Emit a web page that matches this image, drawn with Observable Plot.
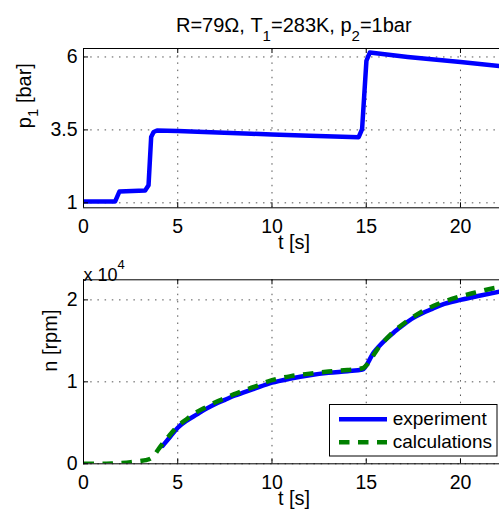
<!DOCTYPE html>
<html>
<head>
<meta charset="utf-8">
<script src="https://cdn.jsdelivr.net/npm/d3@7"></script>
<script src="https://cdn.jsdelivr.net/npm/@observablehq/plot@0.6"></script>
<style>
  html, body { margin: 0; padding: 0; background: #fff; overflow: hidden; }
  #wrap { position: relative; width: 499px; height: 517px; overflow: hidden; background: #fff;
          font-family: "Liberation Sans", Arial, Helvetica, sans-serif; color: #000; }
  #wrap svg.plotpanel { position: absolute; left: 0; }
  #legend { position: absolute; left: 329px; top: 404px; }
</style>
</head>
<body>
<div id="wrap"></div>
<script>
// ---- data ----
const xTicks = [0, 5, 10, 15, 20];
const pTicks = [1, 3.5, 6];
const nTicks = [0, 10000, 20000];

// upper panel: pressure p1 [bar] vs time t [s]
const pTime = [0, 1.68, 1.91, 3.27, 3.45, 3.59, 3.72, 3.9, 5, 6.4, 8.9, 10, 12, 14.6, 14.78, 15.01, 15.19, 17.2, 20, 22.07];
const pBar  = [1.05, 1.05, 1.39, 1.42, 1.6, 3.26, 3.43, 3.48, 3.46, 3.43, 3.37, 3.34, 3.3, 3.25, 3.53, 5.87, 6.15, 6.0, 5.83, 5.69];

// lower panel: speed n [rpm], experiment
const expTime = [4.2, 4.6, 5, 5.5, 6, 6.5, 7, 7.5, 8, 8.5, 9, 10, 11, 12, 13, 14, 14.8, 15.4, 16, 16.5, 17, 17.5, 18, 18.5, 19, 20, 21, 22.07];
const expRpm  = [2200, 3300, 4400, 5300, 6000, 6700, 7300, 7800, 8300, 8700, 9100, 9900, 10400, 10800, 11100, 11300, 11500, 13600, 15100, 16100, 17000, 17800, 18400, 18900, 19400, 20000, 20500, 21000];

// lower panel: speed n [rpm], calculations
const calcTime = [0, 1, 1.5, 2, 2.5, 3, 3.3, 3.6, 3.8, 4.0, 4.5, 5, 5.5, 6, 6.5, 7, 7.5, 8, 8.5, 9, 10, 11, 12, 13, 14, 14.8, 15.0, 15.6, 16.3, 17.1, 17.9, 18.8, 19.8, 20.8, 21.8, 22.07];
const calcRpm  = [0, 0, 30, 100, 200, 350, 450, 700, 1200, 1850, 3300, 4600, 5500, 6300, 6900, 7500, 8000, 8500, 8950, 9350, 10200, 10700, 11000, 11250, 11450, 11650, 12000, 14000, 15800, 17300, 18500, 19500, 20300, 20900, 21450, 21550];

const seriesNames = ["experiment", "calculations"];
const seriesColors = ["#0000ff", "#008000"];

// ---- layout ----
const FONT = '"Liberation Sans", Arial, Helvetica, sans-serif';
const W = 499, ML = 83, MR = 0;
const xMax = 22.07;
const pDomain = [0.83, 6.29];
const nDomain = [0, 22450];
const gridStyle = {stroke: "#555", strokeOpacity: 1, strokeWidth: 1, strokeDasharray: "1.5,5.7"};

const pData = pTime.map((t, i) => ({t, v: pBar[i]}));
const expData = expTime.map((t, i) => ({t, v: expRpm[i]}));
const calcData = calcTime.map((t, i) => ({t, v: calcRpm[i]}));

function rewrite(svg, match, parts) {
  d3.select(svg).selectAll("text").filter(function() { return this.textContent === match; })
    .each(function() {
      const el = d3.select(this);
      el.text(null);
      for (const p of parts) {
        const ts = el.append("tspan").text(p.t);
        if (p.dy) ts.attr("dy", p.dy);
        if (p.fs) ts.attr("font-size", p.fs);
      }
    });
}

// upper panel
const H1 = 260, MT1 = 48, MB1 = 52.7;
const fh1 = H1 - MT1 - MB1, fw = W - ML - MR;
const titleStr = "R=79Ω, T1=283K, p2=1bar";
const topPlot = Plot.plot({
  width: W, height: H1, marginTop: MT1, marginBottom: MB1, marginLeft: ML, marginRight: MR,
  className: "plotpanel",
  style: {fontFamily: FONT, fontSize: "19.5px", color: "#000", overflow: "visible", background: "transparent"},
  x: {domain: [0, xMax]},
  y: {domain: pDomain},
  marks: [
    Plot.gridX(xTicks, gridStyle),
    Plot.gridY(pTicks, gridStyle),
    Plot.line(pData, {x: "t", y: "v", stroke: seriesColors[0], strokeWidth: 4.5, clip: true}),
    Plot.ruleY([pDomain[0], pDomain[1]], {stroke: "#000"}),
    Plot.ruleX([0], {stroke: "#000"}),
    Plot.tickX(xTicks, {x: d => d, insetTop: fh1 - 5, stroke: "#000"}),
    Plot.tickX(xTicks, {x: d => d, insetBottom: fh1 - 5, stroke: "#000"}),
    Plot.tickY(pTicks, {y: d => d, insetRight: fw - 5, stroke: "#000"}),
    Plot.axisX(xTicks, {tickSize: 0, tickPadding: 11, label: null, fontSize: 19.5}),
    Plot.axisY(pTicks, {tickSize: 0, tickPadding: 6, label: null, fontSize: 19.5, tickFormat: d => String(d)}),
    Plot.text(["t [s]"], {text: d => d, frameAnchor: "bottom", dx: 2.5, dy: 40.9, fontSize: 20}),
    Plot.text(["p1 [bar]"], {text: d => d, frameAnchor: "left", rotate: -90, dx: -59.2, fontSize: 20}),
    Plot.text([titleStr], {text: d => d, frameAnchor: "top", dx: 2.3, dy: -31.1, fontSize: 20})
  ]
});
topPlot.style.top = "0px";
rewrite(topPlot, "p1 [bar]", [{t: "p"}, {t: "1", dy: 7, fs: 15}, {t: " [bar]", dy: -7}]);
rewrite(topPlot, titleStr, [{t: "R=79Ω, T"}, {t: "1", dy: 9, fs: 15}, {t: "=283K, p", dy: -9}, {t: "2", dy: 9, fs: 15}, {t: "=1bar", dy: -9}]);

// lower panel
const T2 = 260, H2 = 257, MT2 = 19.3, MB2 = 53.7;
const fh2 = H2 - MT2 - MB2;
const bottomPlot = Plot.plot({
  width: W, height: H2, marginTop: MT2, marginBottom: MB2, marginLeft: ML, marginRight: MR,
  className: "plotpanel",
  style: {fontFamily: FONT, fontSize: "19.5px", color: "#000", overflow: "visible", background: "transparent"},
  x: {domain: [0, xMax]},
  y: {domain: nDomain},
  marks: [
    Plot.gridX(xTicks, gridStyle),
    Plot.gridY(nTicks, gridStyle),
    Plot.line(expData, {x: "t", y: "v", stroke: seriesColors[0], strokeWidth: 4.5, curve: "monotone-x", clip: true}),
    Plot.line(calcData, {x: "t", y: "v", stroke: seriesColors[1], strokeWidth: 4.5, strokeDasharray: "10.5,8.5", strokeLinecap: "butt", curve: "monotone-x", clip: true}),
    Plot.ruleY([nDomain[0], nDomain[1]], {stroke: "#000"}),
    Plot.ruleX([0], {stroke: "#000"}),
    Plot.tickX(xTicks, {x: d => d, insetTop: fh2 - 5, stroke: "#000"}),
    Plot.tickX(xTicks, {x: d => d, insetBottom: fh2 - 5, stroke: "#000"}),
    Plot.tickY(nTicks, {y: d => d, insetRight: fw - 5, stroke: "#000"}),
    Plot.axisX(xTicks, {tickSize: 0, tickPadding: 11, label: null, fontSize: 19.5}),
    Plot.axisY(nTicks, {tickSize: 0, tickPadding: 6, label: null, fontSize: 19.5, tickFormat: d => String(d / 10000)}),
    Plot.text(["t [s]"], {text: d => d, frameAnchor: "bottom", dx: 2.5, dy: 41.3, fontSize: 20}),
    Plot.text(["n [rpm]"], {text: d => d, frameAnchor: "left", rotate: -90, dx: -33.2, fontSize: 20}),
    Plot.text(["x 104"], {text: d => d, frameAnchor: "top-left", textAnchor: "start", dy: -12, fontSize: 18})
  ]
});
bottomPlot.style.top = T2 + "px";
rewrite(bottomPlot, "x 104", [{t: "x 10"}, {t: "4", dy: -12, fs: 13}]);

const wrap = document.getElementById("wrap");
wrap.appendChild(topPlot);
wrap.appendChild(bottomPlot);

// legend
const lg = d3.select(wrap).append("svg").attr("id", "legend").attr("width", 169).attr("height", 53)
  .style("font-family", FONT);
lg.append("rect").attr("x", 0.5).attr("y", 0.5).attr("width", 167.5).attr("height", 51.5)
  .attr("fill", "#fff").attr("stroke", "#000").attr("stroke-width", 1);
seriesNames.forEach((name, i) => {
  const cy = 15.3 + i * 23;
  lg.append("line").attr("x1", 10).attr("x2", 58).attr("y1", cy).attr("y2", cy)
    .attr("stroke", seriesColors[i]).attr("stroke-width", 4.5)
    .attr("stroke-dasharray", i === 1 ? "10.5,8.5" : null);
  lg.append("text").attr("x", 63.7).attr("y", cy).attr("dy", "0.32em")
    .attr("font-size", 19).attr("fill", "#000").text(name);
});
</script>
</body>
</html>
